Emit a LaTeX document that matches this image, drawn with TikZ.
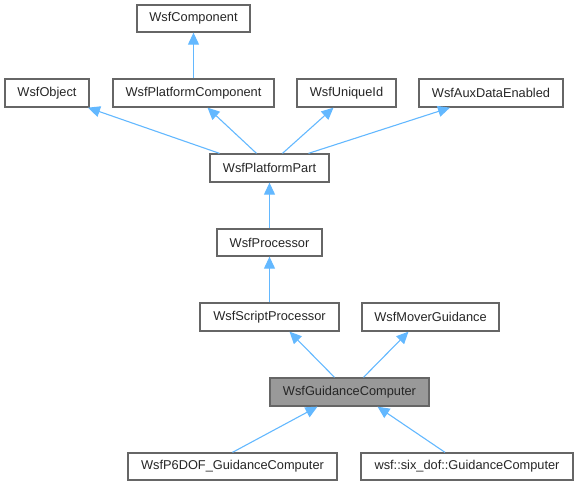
\documentclass[tikz,border=0pt]{standalone}
\usepackage{fontspec}
\setmainfont{Liberation Sans}
\usetikzlibrary{arrows.meta}
\definecolor{edgeblue}{HTML}{63B8FF}
\definecolor{boxline}{HTML}{666666}
\definecolor{hilite}{HTML}{999999}
\begin{document}
\begin{tikzpicture}[x=1pt,y=-1pt,
  cls/.style={draw=boxline,line width=1.3pt,fill=white,inner sep=0pt,
    font=\fontsize{12.8}{14}\selectfont,text=black!85},
  lbl/.style={font=\fontsize{12.8}{14}\selectfont,text=black!85},
  inh/.style={draw=edgeblue,line width=1.1pt,
    -{Triangle[length=12pt,width=11pt,fill=edgeblue]}}]
\useasboundingbox (0,0) rectangle (579,485);
\newcommand\cbox[6]{\node[cls,#6,minimum width={#4-#2},minimum height={#5-#3}] (#1) at ({(#2+#4)/2},{(#3+#5)/2}) {};}
\cbox{comp}{137}{5}{250}{32}{}
\cbox{obj}{5}{79}{89}{107}{}
\cbox{pcomp}{113}{79}{274}{107}{}
\cbox{uid}{297}{79}{396}{107}{}
\cbox{aux}{419}{79}{563}{107}{}
\cbox{ppart}{210}{154}{329}{182}{}
\cbox{proc}{217}{229}{322}{256}{}
\cbox{sproc}{200}{303}{339}{331}{}
\cbox{mover}{362}{303}{499}{331}{}
\cbox{gc}{270}{378}{429}{406}{fill=hilite}
\cbox{p6}{128}{453}{337}{480}{}
\cbox{six}{361}{453}{573}{480}{}
\node[lbl] at (comp) {WsfComponent};
\node[lbl] at (obj) {WsfObject};
\node[lbl] at (pcomp) {WsfPlatformComponent};
\node[lbl] at (uid) {WsfUniqueId};
\node[lbl] at (aux) {WsfAuxDataEnabled};
\node[lbl] at (ppart) {WsfPlatformPart};
\node[lbl] at (proc) {WsfProcessor};
\node[lbl] at (sproc) {WsfScriptProcessor};
\node[lbl] at (mover) {WsfMoverGuidance};
\node[lbl] at (gc) {WsfGuidanceComputer};
\node[lbl] at (p6) {WsfP6DOF\_GuidanceComputer};
\node[lbl] at (six) {wsf::six\_dof::GuidanceComputer};
\draw[inh] (pcomp.north -| comp) -- (comp.south);
\draw[inh] ([xshift=-50pt]ppart.north) -- ([xshift=41pt]obj.south);
\draw[inh] ([xshift=-13pt]ppart.north) -- ([xshift=14pt]pcomp.south);
\draw[inh] ([xshift=13pt]ppart.north) -- ([xshift=-13pt]uid.south);
\draw[inh] ([xshift=39pt]ppart.north) -- ([xshift=-41pt]aux.south);
\draw[inh] (proc.north) -- (ppart.south);
\draw[inh] (sproc.north) -- (proc.south);
\draw[inh] ([xshift=-15pt]gc.north) -- ([xshift=20pt]sproc.south);
\draw[inh] ([xshift=14pt]gc.north) -- ([xshift=-22pt]mover.south);
\draw[inh] ([xshift=0pt]p6.north) -- ([xshift=-32pt]gc.south);
\draw[inh] ([xshift=-22pt]six.north) -- ([xshift=28pt]gc.south);
\end{tikzpicture}
\end{document}
